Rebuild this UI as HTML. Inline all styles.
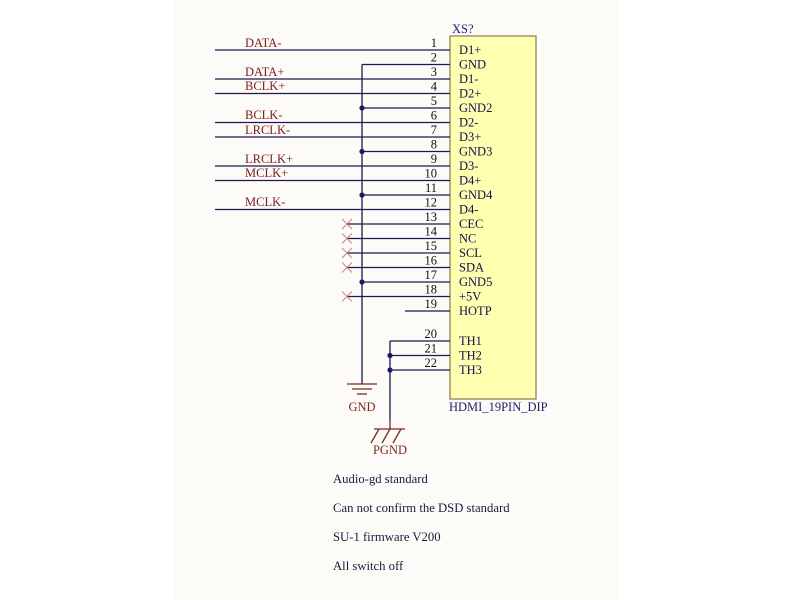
<!DOCTYPE html>
<html><head><meta charset="utf-8"><style>
body{margin:0;background:#fff}
svg{display:block}
text{font-family:"Liberation Serif",serif}
</style></head><body>
<svg width="800" height="600" xmlns="http://www.w3.org/2000/svg">
<rect x="174" y="0" width="444" height="600" fill="#fdfbf7"/>
<rect x="450" y="36" width="86" height="363" fill="#ffffb0" stroke="#8a7a50" stroke-width="1.2"/>
<text x="452" y="33" font-size="12.5" fill="#202070">XS?</text>
<text x="449" y="411" font-size="12.5" fill="#202070">HDMI_19PIN_DIP</text>
<g stroke="#1a1a50" stroke-width="1.3" fill="none">
<line x1="215" y1="50" x2="450" y2="50"/>
<line x1="362" y1="64.5" x2="450" y2="64.5"/>
<line x1="215" y1="79" x2="450" y2="79"/>
<line x1="215" y1="93.5" x2="450" y2="93.5"/>
<line x1="362" y1="108" x2="450" y2="108"/>
<line x1="215" y1="122.5" x2="450" y2="122.5"/>
<line x1="215" y1="137" x2="450" y2="137"/>
<line x1="362" y1="151.5" x2="450" y2="151.5"/>
<line x1="215" y1="166" x2="450" y2="166"/>
<line x1="215" y1="180.5" x2="450" y2="180.5"/>
<line x1="362" y1="195" x2="450" y2="195"/>
<line x1="215" y1="209.5" x2="450" y2="209.5"/>
<line x1="347" y1="224" x2="450" y2="224"/>
<line x1="347" y1="238.5" x2="450" y2="238.5"/>
<line x1="347" y1="253" x2="450" y2="253"/>
<line x1="347" y1="267.5" x2="450" y2="267.5"/>
<line x1="362" y1="282" x2="450" y2="282"/>
<line x1="347" y1="296.5" x2="450" y2="296.5"/>
<line x1="405" y1="311" x2="450" y2="311"/>
<line x1="390" y1="341" x2="450" y2="341"/>
<line x1="390" y1="355.5" x2="450" y2="355.5"/>
<line x1="390" y1="370" x2="450" y2="370"/>
<line x1="362" y1="64.5" x2="362" y2="384"/>
<line x1="390" y1="341" x2="390" y2="420"/>
</g>
<g fill="#1a1a60">
<circle cx="362" cy="108" r="2.6"/><circle cx="362" cy="151.5" r="2.6"/><circle cx="362" cy="195" r="2.6"/><circle cx="362" cy="282" r="2.6"/>
<circle cx="390" cy="355.5" r="2.6"/><circle cx="390" cy="370" r="2.6"/>
</g>
<g stroke="#d08080" stroke-width="1">
<path d="M342 219l10 10M352 219l-10 10"/>
<path d="M342 233.5l10 10M352 233.5l-10 10"/>
<path d="M342 248l10 10M352 248l-10 10"/>
<path d="M342 262.5l10 10M352 262.5l-10 10"/>
<path d="M342 291.5l10 10M352 291.5l-10 10"/>
</g>
<g stroke="#7a2a20" stroke-width="1.3">
<line x1="347" y1="384" x2="377" y2="384"/>
<line x1="352" y1="389" x2="372" y2="389"/>
<line x1="357" y1="394" x2="367" y2="394"/>
<line x1="390" y1="420" x2="390" y2="429"/>
<line x1="374" y1="429" x2="405" y2="429"/>
<line x1="379" y1="429" x2="371" y2="443"/>
<line x1="390" y1="429" x2="382" y2="443"/>
<line x1="401" y1="429" x2="393" y2="443"/>
</g>
<text x="362" y="411" font-size="12.5" fill="#7a2a20" text-anchor="middle">GND</text>
<text x="390" y="454" font-size="12.5" fill="#7a2a20" text-anchor="middle">PGND</text>
<g font-size="12.5" fill="#7a2020">
<text x="245" y="47">DATA-</text>
<text x="245" y="76">DATA+</text>
<text x="245" y="90">BCLK+</text>
<text x="245" y="119">BCLK-</text>
<text x="245" y="134">LRCLK-</text>
<text x="245" y="163">LRCLK+</text>
<text x="245" y="177">MCLK+</text>
<text x="245" y="206">MCLK-</text>
</g>
<g font-size="12.5" fill="#111" text-anchor="end">
<text x="437" y="47">1</text><text x="437" y="61.5">2</text><text x="437" y="76">3</text><text x="437" y="90.5">4</text>
<text x="437" y="105">5</text><text x="437" y="119.5">6</text><text x="437" y="134">7</text><text x="437" y="148.5">8</text>
<text x="437" y="163">9</text><text x="437" y="177.5">10</text><text x="437" y="192">11</text><text x="437" y="206.5">12</text>
<text x="437" y="221">13</text><text x="437" y="235.5">14</text><text x="437" y="250">15</text><text x="437" y="264.5">16</text>
<text x="437" y="279">17</text><text x="437" y="293.5">18</text><text x="437" y="308">19</text>
<text x="437" y="338">20</text><text x="437" y="352.5">21</text><text x="437" y="367">22</text>
</g>
<g font-size="12.5" fill="#101050">
<text x="459" y="54">D1+</text><text x="459" y="68.5">GND</text><text x="459" y="83">D1-</text><text x="459" y="97.5">D2+</text>
<text x="459" y="112">GND2</text><text x="459" y="126.5">D2-</text><text x="459" y="141">D3+</text><text x="459" y="155.5">GND3</text>
<text x="459" y="170">D3-</text><text x="459" y="184.5">D4+</text><text x="459" y="199">GND4</text><text x="459" y="213.5">D4-</text>
<text x="459" y="228">CEC</text><text x="459" y="242.5">NC</text><text x="459" y="257">SCL</text><text x="459" y="271.5">SDA</text>
<text x="459" y="286">GND5</text><text x="459" y="300.5">+5V</text><text x="459" y="315">HOTP</text>
<text x="459" y="345">TH1</text><text x="459" y="359.5">TH2</text><text x="459" y="374">TH3</text>
</g>
<g font-size="12.7" fill="#1a1a40">
<text x="333" y="483">Audio-gd standard</text>
<text x="333" y="512">Can not confirm the DSD standard</text>
<text x="333" y="541">SU-1 firmware V200</text>
<text x="333" y="570">All switch off</text>
</g>
</svg>
</body></html>
